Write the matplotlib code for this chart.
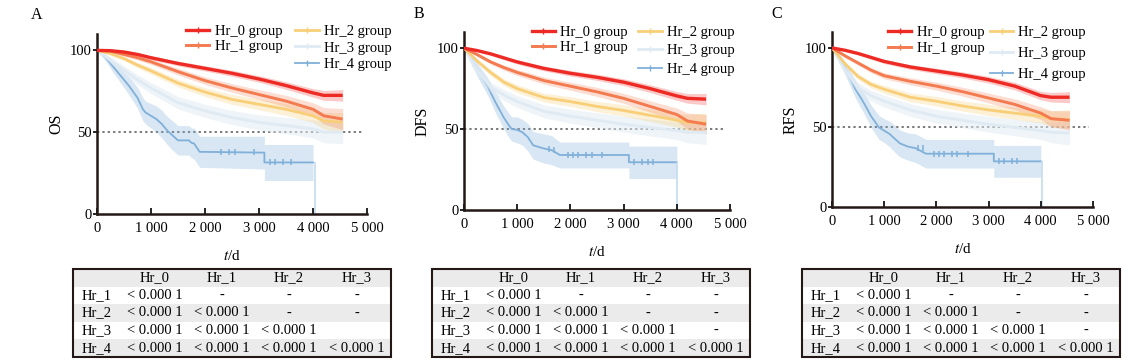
import matplotlib
matplotlib.use("Agg")
import matplotlib.pyplot as plt
from matplotlib.patches import Rectangle
from matplotlib.lines import Line2D
import numpy as np

plt.rcParams['font.family'] = ['Liberation Serif', 'DejaVu Serif']
plt.rcParams['mathtext.fontset'] = 'stix'

W, H = 1137, 364

# ---- data ----
groups = ['Hr_0', 'Hr_1', 'Hr_2', 'Hr_3', 'Hr_4']
# common time grid for the four large groups
t_grid = [0, 250, 500, 750, 1000, 1500, 2000, 2500, 3000, 3500, 4000, 4200, 4550]

# OS
os_hr0 = [100, 99.8, 99, 97.5, 95.5, 92, 89, 86, 82.5, 78.5, 74, 72.5, 72.5]
os_hr1 = [100, 99.5, 97.5, 95.5, 93, 87, 81.5, 77, 73, 69, 64, 60, 58]
os_hr2 = [100, 98, 95, 91, 87.5, 80, 74.5, 70, 67, 64, 60, 57, 56]
os_hr3 = [100, 94, 88, 82, 77, 68, 63, 59, 56, 54, 52, 50, 50]
os_hr4_t = [0, 150, 300, 450, 600, 750, 850, 900, 1000, 1100, 1200, 1300, 1400,
            1500, 1700, 1750, 1800, 1900, 3100, 3100, 4000]
os_hr4 = [100, 96, 90, 84, 78, 71, 64, 62, 60, 58, 55, 51, 48, 45, 45, 43.5, 43,
          38, 37.5, 31.5, 31.5]
os_hr4_end = 4030
os_ci = [[0, 0.5, 0.8, 1, 1.2, 1.4, 1.6, 1.8, 2, 2.3, 2.6, 3, 3.5],
         [0, 0.8, 1, 1.3, 1.6, 2, 2.3, 2.6, 3, 3.5, 4, 5, 6.5],
         [0, 1, 1.3, 1.6, 2, 2.3, 2.6, 3, 3.3, 3.7, 4, 5, 6],
         [0, 2, 2.6, 3, 3.4, 3.8, 4, 4.3, 4.6, 5, 5.5, 6.5, 7],
         [0, 2, 3.5, 4.5, 5.5, 6.5, 7, 7, 7.5, 8, 8.5, 8.5, 9, 9, 9, 9, 9.5, 9.5,
          10, 11, 11]]
os_cens = [2300, 2450, 2550, 2900, 3200, 3300, 3450, 3600]

# DFS
dfs_hr0 = [100, 98.5, 96.5, 94, 91.5, 87.5, 84.5, 82, 79, 75, 70.5, 69, 68.5]
dfs_hr1 = [100, 96, 91.5, 88, 85, 80, 76.5, 73, 69, 64, 59, 55, 53]
dfs_hr2 = [100, 92, 85, 79, 75, 69.5, 67, 64, 61.5, 58.5, 55.5, 54, 54]
dfs_hr3 = [100, 86, 76, 71, 67, 61, 58, 55.5, 53, 51, 49, 48, 48]
dfs_hr4_t = [0, 150, 300, 450, 600, 750, 850, 900, 1000, 1100, 1200, 1300, 1500,
             1650, 1800, 3100, 3100, 4000]
dfs_hr4 = [100, 92, 84, 76, 66, 57, 52, 50, 49.5, 48, 45, 40, 38, 37, 34, 34, 29.5,
           29.5]
dfs_hr4_end = 4010
dfs_ci = [[0, 0.6, 0.9, 1.1, 1.3, 1.5, 1.7, 1.9, 2.1, 2.4, 2.7, 3, 3.5],
          [0, 1, 1.3, 1.6, 1.9, 2.2, 2.5, 2.8, 3.1, 3.5, 4, 5, 6],
          [0, 1.4, 1.8, 2.1, 2.4, 2.7, 3, 3.2, 3.5, 3.8, 4.2, 5, 6],
          [0, 2.5, 3, 3.4, 3.7, 4, 4.3, 4.6, 4.9, 5.2, 5.5, 6.5, 7.5],
          [0, 3, 4.5, 5.5, 6.5, 7, 7.5, 7.5, 8, 8, 8.5, 8.5, 9, 9, 8, 8, 10, 10]]
dfs_cens = [1600, 1700, 1950, 2050, 2150, 2300, 2400, 2600, 3200, 3350, 3450, 3550]

# RFS
rfs_hr0 = [100, 98.5, 96.5, 94, 91.5, 88, 85.5, 83, 80, 76, 70, 69, 69]
rfs_hr1 = [100, 95, 90.5, 86, 82.5, 79, 76, 72.5, 68.5, 64.5, 59, 55.5, 54.5]
rfs_hr2 = [100, 90, 82, 77, 74, 69, 66.5, 63.5, 61, 59, 57, 55.5, 55]
rfs_hr3 = [100, 86, 75, 70, 66.5, 61, 57, 54.5, 52, 50, 48, 47, 46.5]
rfs_hr4_t = [0, 150, 300, 450, 600, 750, 900, 1000, 1100, 1200, 1300, 1450, 1600,
             1800, 3100, 3100, 4000]
rfs_hr4 = [100, 93, 84, 74, 66, 57, 50, 48, 46, 43, 40, 38, 37, 33.5, 33.5, 28.7,
           28.7]
rfs_hr4_end = 4030
rfs_ci = [[0, 0.6, 0.9, 1.1, 1.3, 1.5, 1.7, 1.9, 2.1, 2.4, 2.7, 3, 3.5],
          [0, 1, 1.3, 1.6, 1.9, 2.2, 2.5, 2.8, 3.1, 3.5, 4, 5, 6],
          [0, 1.4, 1.8, 2.1, 2.4, 2.7, 3, 3.2, 3.5, 3.8, 4.2, 5, 6],
          [0, 2.5, 3, 3.4, 3.7, 4, 4.3, 4.6, 4.9, 5.2, 5.5, 6.5, 7.5],
          [0, 3, 4.5, 5.5, 6.5, 7, 7.5, 7.5, 8, 8.5, 8.5, 8.5, 9, 9, 9, 10, 10]]
rfs_cens = [1650, 1750, 1950, 2050, 2150, 2300, 2400, 2600, 3200, 3300, 3450, 3550]

# pairwise log-rank p values (rows Hr_1..Hr_4, cols Hr_0..Hr_3)
tab_cols = ['Hr_0', 'Hr_1', 'Hr_2', 'Hr_3']
tab_rows = ['Hr_1', 'Hr_2', 'Hr_3', 'Hr_4']
tab_os = [['< 0.000 1', '-', '-', '-'],
          ['< 0.000 1', '< 0.000 1', '-', '-'],
          ['< 0.000 1', '< 0.000 1', '< 0.000 1', ''],
          ['< 0.000 1', '< 0.000 1', '< 0.000 1', '< 0.000 1']]
tab_dfs = [['< 0.000 1', '-', '-', '-'],
           ['< 0.000 1', '< 0.000 1', '-', '-'],
           ['< 0.000 1', '< 0.000 1', '< 0.000 1', '-'],
           ['< 0.000 1', '< 0.000 1', '< 0.000 1', '< 0.000 1']]
tab_rfs = tab_dfs

colors = ['#ee2a24', '#f47a4f', '#f8cf78', '#dfeaf3', '#80b0da']
band_alpha = [0.25, 0.25, 0.3, 0.5, 0.3]
lw = [2.4, 2.1, 2.0, 2.0, 1.3]

panels = [
    dict(letter='A', ylabel='OS', curves=[os_hr0, os_hr1, os_hr2, os_hr3],
         t4=os_hr4_t, v4=os_hr4, end4=os_hr4_end, ci=os_ci, cens=os_cens,
         table=tab_os, ax=(97, 34, 367, 214), leg1=(0.33, 1.053),
         leg2=(0.735, 1.053), sp2=0.25, tab=(73, 269), lab=(37, 15)),
    dict(letter='B', ylabel='DFS', curves=[dfs_hr0, dfs_hr1, dfs_hr2, dfs_hr3],
         t4=dfs_hr4_t, v4=dfs_hr4, end4=dfs_hr4_end, ci=dfs_ci, cens=dfs_cens,
         table=tab_dfs, ax=(464, 32, 730, 210), leg1=(0.255, 1.035),
         leg2=(0.655, 1.035), sp2=0.36, tab=(432, 269), lab=(419, 14)),
    dict(letter='C', ylabel='RFS', curves=[rfs_hr0, rfs_hr1, rfs_hr2, rfs_hr3],
         t4=rfs_hr4_t, v4=rfs_hr4, end4=rfs_hr4_end, ci=rfs_ci, cens=rfs_cens,
         table=tab_rfs, ax=(832, 32, 1093, 207), leg1=(0.215, 1.033),
         leg2=(0.605, 1.033), sp2=0.52, tab=(802, 269), lab=(777, 14)),
]

fig = plt.figure(figsize=(W / 100, H / 100), dpi=100)
fs = 10.5


def fig_rect(x0, y0, x1, y1):
    return [x0 / W, 1 - y1 / H, (x1 - x0) / W, (y1 - y0) / H]


for p in panels:
    ax = fig.add_axes(fig_rect(*p['ax']))
    t = np.array(t_grid)
    # draw from Hr_4 up to Hr_0 so red is on top
    for i in [4, 3, 2, 1, 0]:
        if i < 4:
            v = np.array(p['curves'][i])
            ci = np.array(p['ci'][i])
            ax.fill_between(t, v - ci, np.minimum(v + ci, 100),
                            color=colors[i], alpha=band_alpha[i], lw=0)
            ax.plot(t, v, color=colors[i], lw=lw[i], zorder=5 - i,
                    solid_capstyle='butt')
        else:
            t4 = np.array(p['t4'])
            v4 = np.array(p['v4'])
            ci = np.array(p['ci'][4])
            ax.fill_between(t4, v4 - ci, v4 + ci, color=colors[4],
                            alpha=band_alpha[4], lw=0)
            ax.plot(t4, v4, color=colors[4], lw=lw[4], zorder=1)
            # last patient: faint drop to zero
            ax.vlines(p['end4'], 0, v4[-1], color='#c5dbee', lw=1.2, zorder=1)
            # censor ticks sit on the flat tail segments
            ct = np.array(p['cens'])
            cv = np.array([v4[np.searchsorted(t4, c, side='right') - 1] for c in ct])
            ax.plot(ct, cv, ls='none', marker='|', ms=4, mew=1.1,
                    color=colors[4], zorder=1)
    handles = [Line2D([], [], color=colors[i], lw=lw[i], marker='|', ms=5, mew=1)
               for i in range(5)]

    ax.axhline(50, color='#555555', ls=(0, (1.5, 2)), lw=1.1, xmax=0.985, zorder=0)
    ax.set_xlim(0, 5000)
    ax.set_ylim(0, 110)
    ax.set_xticks([0, 1000, 2000, 3000, 4000, 5000])
    ax.set_xticklabels(['0', '1 000', '2 000', '3 000', '4 000', '5 000'])
    ax.set_yticks([0, 50, 100])
    for s in ['top', 'right']:
        ax.spines[s].set_visible(False)
    for s in ['left', 'bottom']:
        ax.spines[s].set_linewidth(1.8)
        ax.spines[s].set_color('#231815')
    ax.tick_params(axis='x', direction='in', length=4, width=1.2, labelsize=fs, pad=6)
    ax.tick_params(axis='y', direction='out', length=3, width=1.2, labelsize=fs, pad=1)
    ax.set_ylabel(p['ylabel'], fontsize=fs + 1, labelpad=4)
    ax.set_xlabel('$t$/d', fontsize=fs + 0.5, labelpad=10)

    l1 = ax.legend(handles[:2], [g + ' group' for g in groups[:2]],
                   loc='upper left', bbox_to_anchor=p['leg1'], frameon=False,
                   fontsize=fs, borderpad=0, handlelength=1.6, handletextpad=0.35,
                   labelspacing=0.15, borderaxespad=0)
    ax.add_artist(l1)
    ax.legend(handles[2:], [g + ' group' for g in groups[2:]], loc='upper left',
              bbox_to_anchor=p['leg2'], frameon=False, fontsize=fs,
              borderpad=0, handlelength=1.6, handletextpad=0.35,
              labelspacing=p['sp2'], borderaxespad=0)

    fig.text(p['lab'][0] / W, 1 - p['lab'][1] / H, p['letter'], fontsize=fs + 1,
             ha='center', va='center')

    # table of p values
    tx, ty = p['tab']
    tw, th = 318, 88
    tax = fig.add_axes(fig_rect(tx, ty, tx + tw, ty + th))
    tax.set_xlim(0, tw)
    tax.set_ylim(th, 0)
    tax.axis('off')
    row_h = th / 5
    col_x = [24, 82, 149, 216, 284]
    for r in range(5):
        if r in (0, 2, 4):
            tax.add_patch(Rectangle((0, r * row_h), tw, row_h, color='#ebebeb', lw=0))
    tax.add_patch(Rectangle((0, 0), tw, th, fill=False, ec='#231815', lw=1.5,
                            clip_on=False))
    yc = row_h / 2
    for j, c in enumerate(tab_cols):
        tax.text(col_x[j + 1], yc, c, ha='center', va='center', fontsize=fs)
    for r, rl in enumerate(tab_rows):
        y = (r + 1.5) * row_h
        tax.text(col_x[0], y, rl, ha='center', va='center', fontsize=fs)
        for j, val in enumerate(p['table'][r]):
            tax.text(col_x[j + 1], y, val, ha='center', va='center', fontsize=fs)

fig.savefig('out.png', dpi=100)
